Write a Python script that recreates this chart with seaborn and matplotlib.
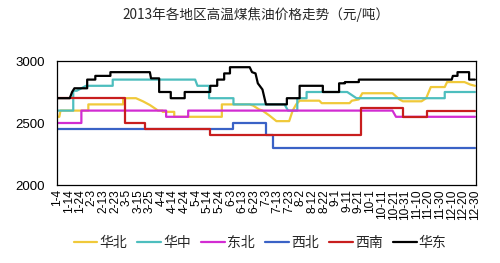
import matplotlib
matplotlib.use("Agg")
import matplotlib.pyplot as plt
import seaborn as sns
import pandas as pd

title = "2013年各地区高温煤焦油价格走势（元/吨）"
regions = ["华北", "华中", "东北", "西北", "西南", "华东"]
colors = ["#F0C93A", "#4DBEBE", "#D22CD2", "#3A62C6", "#C81E1E", "#000000"]

tick_days = list(range(4, 365, 10))
tick_labels = ["1-4", "1-14", "1-24", "2-3", "2-13", "2-23", "3-5", "3-15", "3-25",
               "4-4", "4-14", "4-24", "5-4", "5-14", "5-24", "6-3", "6-13", "6-23",
               "7-3", "7-13", "7-23", "8-2", "8-12", "8-22", "9-1", "9-11", "9-21",
               "10-1", "10-11", "10-21", "10-31", "11-10", "11-20", "11-30",
               "12-10", "12-20", "12-30"]
y_ticks = [2000, 2500, 3000]

# day-of-year / price pairs
huabei_days = [4, 6, 7, 31, 31, 61, 61, 72, 78, 84, 88, 91, 95, 95, 105, 105, 146, 146,
               170, 173, 178, 181, 187, 193, 204, 207, 210, 213, 230, 232, 256, 258, 264,
               267, 293, 299, 302, 318, 322, 326, 338, 340, 355, 360, 364]
huabei_vals = [2550, 2550, 2600, 2600, 2650, 2650, 2700, 2700, 2675, 2645, 2620, 2600, 2600,
               2590, 2590, 2550, 2550, 2650, 2650, 2640, 2610, 2600, 2560, 2515, 2515, 2600,
               2650, 2680, 2680, 2660, 2660, 2680, 2690, 2740, 2740, 2690, 2675, 2675, 2700,
               2790, 2790, 2830, 2830, 2810, 2800]

huazhong_days = [4, 18, 18, 21, 29, 52, 52, 123, 125, 135, 135, 156, 156, 200, 203, 211,
                 211, 219, 219, 254, 262, 338, 338, 364]
huazhong_vals = [2600, 2600, 2760, 2760, 2800, 2800, 2850, 2850, 2800, 2800, 2700, 2700,
                 2650, 2650, 2600, 2600, 2700, 2700, 2750, 2750, 2700, 2700, 2750, 2750]

dongbei_days = [4, 25, 25, 98, 98, 117, 117, 293, 296, 364]
dongbei_vals = [2500, 2500, 2600, 2600, 2550, 2550, 2600, 2600, 2550, 2550]

xibei_days = [4, 156, 156, 184, 184, 190, 190, 364]
xibei_vals = [2450, 2450, 2500, 2500, 2400, 2400, 2300, 2300]

xinan_days = [4, 63, 63, 80, 80, 136, 136, 266, 266, 302, 302, 323, 323, 364]
xinan_vals = [2700, 2700, 2500, 2500, 2450, 2450, 2400, 2400, 2620, 2620, 2550, 2550,
              2600, 2600]

huadong_days = [4, 15, 17, 19, 30, 30, 37, 37, 50, 50, 84, 85, 92, 92, 102, 102, 114, 114,
                136, 136, 142, 142, 148, 148, 153, 153, 170, 172, 175, 177, 181, 184, 202,
                202, 213, 213, 233, 233, 247, 247, 252, 252, 264, 264, 344, 345, 349, 349,
                359, 359, 364]
huadong_vals = [2700, 2700, 2750, 2780, 2780, 2850, 2850, 2880, 2880, 2910, 2910, 2860,
                2860, 2750, 2750, 2700, 2700, 2750, 2750, 2800, 2800, 2850, 2850, 2900,
                2900, 2950, 2950, 2910, 2900, 2820, 2770, 2650, 2650, 2700, 2700, 2800,
                2800, 2750, 2750, 2820, 2820, 2830, 2830, 2850, 2850, 2880, 2880, 2910,
                2910, 2850, 2850]

series_days = [huabei_days, huazhong_days, dongbei_days, xibei_days, xinan_days, huadong_days]
series_vals = [huabei_vals, huazhong_vals, dongbei_vals, xibei_vals, xinan_vals, huadong_vals]

frames = []
for name, d, v in zip(regions, series_days, series_vals):
    frames.append(pd.DataFrame({"region": name, "day": d, "price": v}))
df = pd.concat(frames, ignore_index=True)

sns.set_style("white")
plt.rcParams["font.family"] = ["Liberation Sans", "Noto Sans CJK SC", "DejaVu Sans"]

fig = plt.figure(figsize=(5.0, 2.63), dpi=100)
ax = fig.add_axes([57 / 500, 1 - 185 / 263, (475.5 - 57) / 500, (185 - 61) / 263])

sns.lineplot(data=df, x="day", y="price", hue="region", hue_order=regions,
             palette=colors, estimator=None, sort=False, linewidth=1.6, ax=ax,
             legend=True)

ax.set_xlim(4, 364.5)
ax.set_ylim(2000, 3000)
ax.set_yticks(y_ticks)
ax.set_yticklabels([str(t) for t in y_ticks], fontsize=9.5)
ax.set_xticks(tick_days)
ax.set_xticklabels(tick_labels, rotation=90, fontsize=8.6)
ax.tick_params(axis="x", direction="in", length=4, width=0.8, pad=3, colors="black")
ax.tick_params(axis="y", direction="out", length=3, width=0.8, pad=6, colors="black")
ax.set_xlabel("")
ax.set_ylabel("")
for s in ax.spines.values():
    s.set_color("black")
    s.set_linewidth(0.9)
    s.set_visible(True)

handles, labels = ax.get_legend_handles_labels()
ax.get_legend().remove()
fig.legend(handles, labels, loc="center", bbox_to_anchor=(0.52, 1 - 243 / 263),
           ncol=6, frameon=False, handlelength=1.7, handletextpad=0.15,
           columnspacing=0.75, prop={"family": ["Noto Sans CJK SC"], "size": 10})

fig.text(0.512, 1 - 15 / 263, title, ha="center", va="center", fontsize=9.8,
         family=["Noto Sans CJK SC", "DejaVu Sans"])

fig.savefig("out.png", dpi=100, facecolor="white")
